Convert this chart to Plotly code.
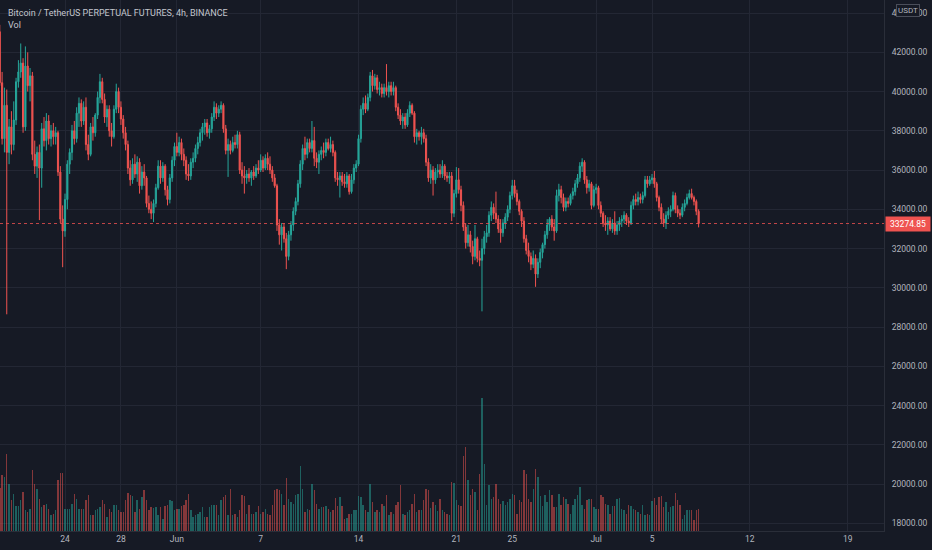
import plotly.graph_objects as go
import pandas as pd

# ---------------- data (4h candles) ----------------
start_time = "2021-05-19 08:00"
first_open = 43050

close = [
    40450, 37600, 39300, 36900,
    38200, 37300, 38550, 40500, 41000, 41450,
    38200, 41300, 40300, 40800, 36800, 36200,
    36900, 36100, 38100, 37500, 38500, 37600,
    38000, 37700, 37900, 35900, 33500, 32900,
    34500, 36300, 36900, 38000, 37600, 38900,
    39400, 38500, 39200, 37300, 36800, 38200,
    37900, 38800, 39700, 40500, 39600, 38700,
    39100, 38000, 37700, 39100, 40000, 39200,
    38600, 37900, 37300, 36100, 35500, 36300,
    35800, 36400, 35200, 35900, 35600, 34300,
    34000, 33800, 34300, 35100, 36200, 35600,
    36200, 35000, 34500, 35600, 36500, 37200,
    36900, 37400, 36800, 36500, 35800, 35700,
    36400, 36600, 37100, 37400, 37900, 38200,
    38400, 37900, 38100, 38700, 39200, 38900,
    39100, 39300, 38100, 37000, 37300, 37000,
    37400, 37300, 37800, 36000, 35700, 35600,
    35800, 35600, 35900, 35700, 36100, 36000,
    36500, 36100, 36600, 36300, 36000, 35600,
    35200, 33200, 32700, 33100, 32500, 31600,
    32700, 33200, 33900, 34400, 35300, 36300,
    37100, 36800, 37400, 37100, 37500, 36600,
    36400, 36800, 37000, 36900, 37400, 37100,
    37300, 36900, 35600, 35500, 35700, 35400,
    35300, 35700, 34900, 35500, 36100, 36300,
    37600, 39100, 39400, 39100, 39700, 40800,
    40300, 40700, 40100, 40200, 39900, 40200,
    40000, 40300, 40000, 40200, 39200, 38800,
    38500, 38700, 38300, 38900, 39300, 38900,
    37700, 37900, 37700, 37900, 37600, 36400,
    35600, 36000, 35500, 35900, 36000, 35800,
    36200, 35700, 35600, 35700, 33800, 34800,
    35500, 35000, 34200, 33100, 32300, 32700,
    32100, 31600, 32500, 31500, 31400, 32000,
    32600, 32800, 33700, 34100, 33800, 33500,
    33000, 32800, 33300, 33600, 34000, 34700,
    35200, 34800, 34400, 33900, 33400, 32500,
    31900, 31600, 31200, 31500, 30700, 31300,
    31800, 32200, 32700, 33200, 33500, 33100,
    32900, 34700, 35000, 34600, 34100, 34400,
    34300, 34700, 34900, 35300, 35600, 36200,
    36400, 35500, 35100, 35300, 34200, 35000,
    35100, 34200, 33800, 33300, 33200, 33400,
    33000, 33300, 32900, 33200, 33400, 33500,
    33700, 33400, 33300, 34200, 34500, 34400,
    34600, 34500, 34700, 35500, 35300, 35500,
    35600, 35300, 34600, 34100, 33500, 33300,
    33700, 33900, 34000, 34700, 34000, 33800,
    33700, 34100, 34300, 34600, 34800, 34600,
    34400, 33900, 33274.85,
]

high = [
    43400, 41000, 40200, 40100,
    38600, 39000, 39500, 40700, 41600, 42450,
    41700, 42300, 42000, 41200, 41000, 37500,
    37200, 37300, 38400, 38700, 38900, 38800,
    38300, 38400, 38200, 38000, 36200, 34200,
    34800, 36500, 37100, 38300, 38500, 39200,
    39700, 39600, 39500, 39700, 37800, 38400,
    38700, 38900, 40000, 40900, 40700, 39900,
    39300, 39300, 38400, 39300, 40400, 40200,
    39500, 38800, 38200, 37500, 36500, 36600,
    36800, 36700, 36600, 36200, 36300, 35700,
    34700, 34400, 34500, 35300, 36500, 36500,
    36400, 36300, 35200, 35800, 36700, 37400,
    37900, 37700, 37600, 37100, 36700, 36300,
    36600, 36900, 37300, 37700, 38100, 38400,
    38600, 38600, 38300, 38900, 39500, 39400,
    39300, 39500, 39400, 38300, 37600, 37500,
    37700, 37800, 38000, 37950, 36400, 36200,
    36000, 36100, 36000, 36200, 36300, 36500,
    36800, 36700, 36800, 36900, 36700, 36200,
    35800, 35300, 33500, 33300, 33300, 32800,
    32900, 33400, 34100, 34600, 35500, 36500,
    37300, 37700, 37600, 37600, 38500, 38200,
    36900, 37000, 37200, 37400, 37600, 37600,
    37700, 37500, 37000, 35900, 35900, 35900,
    35800, 35900, 35800, 35800, 36300, 36500,
    37800, 39300, 39700, 39800, 39900, 41000,
    41100, 40900, 40850, 40500, 40400, 40400,
    41400, 40500, 40500, 40500, 40300, 39400,
    39100, 38900, 38900, 39100, 39500, 39400,
    39000, 38100, 38000, 38200, 38100, 37800,
    36600, 36300, 36200, 36100, 36300, 36300,
    36500, 36300, 35900, 35900, 35900, 35000,
    36150, 36100, 35200, 34400, 33300, 33200,
    32900, 32400, 33200, 32600, 31900, 32500,
    32900, 33200, 33900, 34400, 34300, 34900,
    33700, 33500, 33500, 33800, 34200, 34900,
    35500, 35500, 35000, 34500, 34000, 33600,
    32700, 32300, 31800, 31900, 31700, 31500,
    32000, 32300, 32900, 33500, 33600, 33700,
    33500, 35000, 35300, 35200, 34800, 34600,
    34600, 34800, 35100, 35500, 35800, 36400,
    36600, 36500, 35700, 35500, 35400, 35200,
    35300, 35200, 34400, 33900, 33700, 33600,
    33600, 33500, 33900, 33400, 33600, 33700,
    33900, 33800, 33600, 34400, 34700, 34800,
    34900, 34800, 34900, 35700, 35700, 35700,
    35800, 35950, 35400, 34700, 34300, 33800,
    33900, 34100, 34200, 34900, 34850, 34200,
    34000, 34300, 34500, 34800, 35000, 35050,
    34700, 34500, 34000,
]

low = [
    40300, 37300, 36900, 28650,
    36300, 36800, 37000, 38300, 40200, 40700,
    37900, 38000, 40000, 39500, 36500, 35800,
    35600, 33450, 35100, 37200, 37000, 37300,
    37200, 37300, 37300, 35700, 33300, 31050,
    32600, 34000, 35800, 36500, 37300, 37400,
    38200, 38200, 38300, 37000, 36500, 36700,
    37500, 37700, 38600, 39400, 39400, 38400,
    38200, 37700, 37200, 37600, 38900, 38900,
    38300, 37600, 37000, 35800, 35200, 35300,
    35600, 35400, 34800, 35000, 35200, 34100,
    33800, 33500, 33350, 34100, 35000, 35300,
    35400, 34700, 34200, 34300, 35400, 36200,
    36700, 36700, 36500, 36200, 35500, 35450,
    35500, 36100, 36400, 36800, 37200, 37500,
    37800, 37700, 37600, 37900, 38500, 38600,
    38700, 38900, 37900, 36800, 35650, 36800,
    36900, 37100, 37100, 35800, 35300, 34800,
    35300, 35400, 35200, 35500, 35600, 35800,
    35900, 35900, 36000, 36000, 35800, 35400,
    35100, 32900, 32200, 31900, 32300, 30950,
    31400, 32400, 32900, 33700, 34200, 35100,
    36000, 36500, 36600, 36900, 36900, 36200,
    36100, 35800, 36500, 36600, 36700, 37000,
    36900, 36700, 35400, 35200, 34600, 35200,
    35100, 35100, 34750, 34800, 35300, 35900,
    36200, 37400, 38800, 38900, 39000, 39500,
    40000, 40100, 39900, 39800, 39700, 39700,
    39800, 39700, 39800, 39800, 39000, 38600,
    38300, 38100, 38100, 38200, 38700, 38800,
    37400, 37300, 37500, 37300, 37400, 36200,
    35400, 35300, 34700, 35300, 35600, 35600,
    35600, 35500, 35400, 35300, 33400, 33600,
    34600, 34800, 33900, 32900, 32000, 32100,
    31800, 31200, 31400, 31300, 31100, 28800,
    31700, 32300, 32600, 33400, 33500, 33300,
    32800, 32300, 32600, 33000, 33400, 33800,
    34500, 34600, 34200, 33700, 33100, 32300,
    31700, 31300, 30900, 31000, 30050, 30500,
    31000, 31500, 32000, 32500, 32900, 32900,
    32400, 32800, 34400, 34300, 33900, 33900,
    34100, 34200, 34500, 34700, 35100, 35400,
    35900, 35300, 34800, 34900, 34000, 34100,
    34800, 34000, 33600, 33100, 32900, 32700,
    32900, 32800, 32700, 32700, 32900, 33100,
    33300, 33200, 33100, 33200, 34000, 34200,
    34200, 34300, 34300, 34600, 35100, 35200,
    35300, 35100, 34400, 33900, 33300, 33100,
    33000, 33500, 33600, 33900, 33800, 33600,
    33500, 33600, 33900, 34200, 34500, 34500,
    34200, 33700, 33080,
]

# volume, thousands of BTC per 4h candle
volume = [
    160, 206, 200, 284, 175, 113, 138, 92, 92, 113,
    144, 76, 70, 83, 224, 175, 157, 120, 89, 95,
    101, 83, 58, 64, 76, 187, 215, 215, 83, 83,
    83, 101, 138, 120, 83, 80, 83, 113, 132, 58,
    58, 76, 83, 89, 113, 101, 52, 83, 70, 95,
    95, 76, 70, 70, 113, 140, 135, 128, 70, 113,
    83, 126, 150, 113, 76, 89, 86, 89, 58, 89,
    46, 92, 95, 113, 110, 76, 83, 83, 92, 95,
    113, 138, 76, 52, 58, 64, 70, 89, 52, 52,
    89, 95, 95, 98, 58, 113, 126, 132, 58, 157,
    58, 64, 52, 76, 132, 128, 64, 95, 64, 64,
    70, 92, 64, 70, 83, 64, 58, 95, 150, 157,
    150, 138, 95, 197, 120, 107, 101, 132, 138, 239,
    157, 70, 83, 76, 173, 150, 101, 83, 89, 89,
    92, 83, 70, 79, 123, 92, 126, 92, 46, 49,
    64, 64, 79, 76, 128, 126, 95, 76, 70, 173,
    107, 70, 79, 70, 101, 92, 132, 58, 70, 64,
    98, 107, 169, 64, 58, 70, 76, 101, 138, 70,
    76, 76, 113, 157, 150, 86, 107, 95, 73, 120,
    76, 70, 64, 58, 181, 178, 113, 95, 92, 276,
    311, 187, 132, 157, 144, 76, 210, 493, 249, 98,
    169, 120, 126, 175, 120, 101, 110, 95, 107, 120,
    138, 132, 64, 113, 107, 224, 212, 120, 107, 157,
    231, 200, 128, 92, 132, 107, 150, 132, 89, 89,
    138, 95, 126, 120, 101, 64, 95, 120, 135, 163,
    95, 83, 113, 120, 120, 89, 83, 83, 132, 126,
    101, 95, 64, 92, 92, 120, 123, 83, 76, 64,
    95, 92, 83, 76, 70, 64, 95, 58, 64, 61,
    110, 123, 95, 126, 128, 89, 107, 70, 89, 92,
    140, 113, 95, 46, 58, 76, 76, 76, 39, 76,
    80,
]

last_price = 33274.85

x_tick_dates = ["2021-05-24", "2021-05-28", "2021-06-01", "2021-06-07", "2021-06-14",
                "2021-06-21", "2021-06-25", "2021-07-01", "2021-07-05", "2021-07-12",
                "2021-07-19"]
x_tick_labels = ["24", "28", "Jun", "7", "14", "21", "25", "Jul", "5", "12", "19"]
y_tick_values = list(range(18000, 46000, 2000))
y_tick_labels = [f"{v:.2f}" for v in y_tick_values]

title_text = "Bitcoin / TetherUS PERPETUAL FUTURES, 4h, BINANCE"

# ---------------- figure ----------------
UP = "#26a69a"
DOWN = "#ef5350"
BG = "#161a25"
GRID = "#232734"
TXT = "#b2b5be"
FONT = "Roboto"

times = pd.date_range(start_time, periods=len(close), freq="4h")
open_ = [first_open] + close[:-1]
vol_colors = ["rgba(38,166,154,0.5)" if c >= o else "rgba(239,83,80,0.5)"
              for o, c in zip(open_, close)]

fig = go.Figure()
fig.add_trace(go.Candlestick(
    x=times, open=open_, high=high, low=low, close=close,
    increasing=dict(line=dict(color=UP, width=1), fillcolor=UP),
    decreasing=dict(line=dict(color=DOWN, width=1), fillcolor=DOWN),
    whiskerwidth=0, hoverinfo="skip", showlegend=False,
))
fig.add_trace(go.Bar(
    x=times, y=volume, yaxis="y2",
    marker=dict(color=vol_colors, line=dict(width=0)),
    width=4 * 3600 * 1000 * 0.62, hoverinfo="skip", showlegend=False,
))

px_per_day = 13.977
left = pd.Timestamp("2021-05-24") - pd.Timedelta(days=65 / px_per_day)
right = left + pd.Timedelta(days=884 / px_per_day)

fig.update_layout(
    width=932, height=550,
    margin=dict(l=0, r=48, t=0, b=19),
    paper_bgcolor=BG, plot_bgcolor=BG,
    font=dict(family=FONT, size=8, color=TXT),
    showlegend=False,
    bargap=0,
    xaxis=dict(
        type="date", range=[left, right],
        tickvals=x_tick_dates, ticktext=x_tick_labels,
        showgrid=True, gridcolor=GRID, gridwidth=1,
        zeroline=False, showline=True, linecolor="#2a2e39", linewidth=1,
        ticks="", tickfont=dict(family=FONT, size=8.5, color=TXT),
        rangeslider=dict(visible=False), fixedrange=True,
    ),
    yaxis=dict(
        side="right", range=[17608, 44665],
        tickvals=y_tick_values, ticktext=y_tick_labels,
        showgrid=True, gridcolor=GRID, gridwidth=1,
        zeroline=False, showline=True, linecolor="#2a2e39", linewidth=1,
        ticks="", ticklabelstandoff=5,
        tickfont=dict(family=FONT, size=8.5, color=TXT),
    ),
    yaxis2=dict(
        overlaying="y", range=[0, 1965], visible=False, showgrid=False,
    ),
)

# last price dotted line
fig.add_shape(type="line", xref="paper", x0=0, x1=1, yref="y",
              y0=last_price, y1=last_price,
              line=dict(color="rgba(239,83,80,0.8)", width=1, dash="dot"))

annotations = [
    dict(text=title_text, xref="paper", yref="paper", x=6 / 884, y=1 - 6 / 531,
         xanchor="left", yanchor="top", showarrow=False,
         font=dict(family=FONT, size=9, color="#c3c6ce")),
    dict(text="Vol", xref="paper", yref="paper", x=6 / 884, y=1 - 18 / 531,
         xanchor="left", yanchor="top", showarrow=False,
         font=dict(family=FONT, size=9, color="#c3c6ce")),
    dict(text=f"{last_price:.2f}", xref="paper", yref="y", x=1.0015, y=last_price,
         xanchor="left", yanchor="middle", showarrow=False,
         bgcolor=DOWN, borderpad=2, width=40,
         font=dict(family=FONT, size=8.5, color="#ffffff")),
    dict(text="USDT", xref="paper", yref="paper", x=908 / 884, y=1 - 11 / 531,
         xanchor="center", yanchor="middle", showarrow=False,
         bgcolor=BG, bordercolor="#4a4e5a", borderwidth=1, borderpad=1,
         font=dict(family=FONT, size=8, color=TXT)),
]
fig.update_layout(annotations=annotations)

fig.write_html(
    "out.html",
    config={"displayModeBar": False},
    post_script="document.body.style.margin='0';document.body.style.background='#161a25';",
)
